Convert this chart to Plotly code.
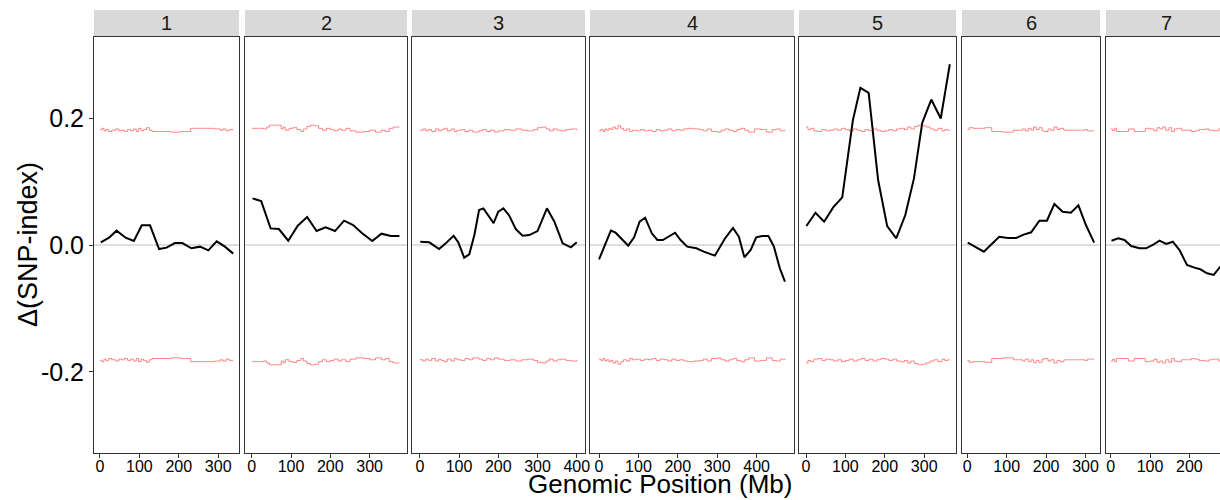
import plotly.graph_objects as go

# ---------------- data ----------------
chromosomes = ["1", "2", "3", "4", "5", "6", "7"]

# Delta SNP-index (tricube-smoothed) per chromosome: positions (Mb) and values
pos_1 = [2, 23, 42, 65, 86, 106, 127, 150, 169, 190, 209, 232, 254, 275, 296, 317, 338]
dsi_1 = [0.004, 0.0115, 0.0226, 0.0115, 0.0063, 0.031, 0.031, -0.0063, -0.0042, 0.0031,
         0.0031, -0.0052, -0.0026, -0.0084, 0.0058, -0.0026, -0.0136]

pos_2 = [2, 24, 48, 69, 93, 117, 141, 165, 188, 212, 235, 258, 281, 307, 330, 354, 376]
dsi_2 = [0.0735, 0.0693, 0.0262, 0.0252, 0.0068, 0.0304, 0.0441, 0.022, 0.0278, 0.022,
         0.0383, 0.0315, 0.0184, 0.0063, 0.0178, 0.0142, 0.0142]

pos_3 = [1, 24, 49, 66, 86, 98, 113, 126, 139, 151, 162, 188, 200, 213, 228, 245, 262,
         279, 300, 324, 343, 364, 385, 400]
dsi_3 = [0.0052, 0.0042, -0.0063, 0.0026, 0.0147, 0.0042, -0.020, -0.0147, 0.0157, 0.0551,
         0.0578, 0.0346, 0.0525, 0.0578, 0.0462, 0.0247, 0.0147, 0.0157, 0.022, 0.0578,
         0.0367, 0.0026, -0.0037, 0.0042]

pos_4 = [0, 10, 30, 42, 59, 74, 89, 103, 117, 134, 148, 162, 193, 207, 224, 247, 266, 294,
         320, 340, 355, 369, 385, 399, 414, 430, 444, 459, 472]
dsi_4 = [-0.0226, -0.0068, 0.0226, 0.0194, 0.009, -0.001, 0.0121, 0.0367, 0.043, 0.0184,
         0.0079, 0.0079, 0.0194, 0.0079, -0.0026, -0.0052, -0.0105, -0.0168, 0.0105, 0.0268,
         0.0131, -0.0194, -0.0079, 0.0121, 0.0142, 0.0142, -0.0026, -0.0367, -0.0578]

pos_5 = [1, 24, 46, 69, 92, 119, 138, 159, 183, 206, 229, 252, 274, 295, 318, 342, 365]
dsi_5 = [0.0299, 0.0509, 0.0367, 0.0593, 0.0751, 0.1969, 0.2478, 0.240, 0.1024, 0.0299,
         0.0105, 0.0472, 0.105, 0.1926, 0.2294, 0.1995, 0.285]

pos_6 = [1, 22, 42, 62, 81, 103, 124, 143, 162, 183, 202, 221, 242, 263, 282, 301, 322]
dsi_6 = [0.0037, -0.0037, -0.0105, 0.0016, 0.0131, 0.011, 0.011, 0.0163, 0.020, 0.0383,
         0.0383, 0.0646, 0.0525, 0.0509, 0.0625, 0.0315, 0.0037]

pos_7 = [2, 19, 35, 52, 73, 90, 107, 124, 141, 158, 175, 194, 213, 228, 245, 262, 280]
dsi_7 = [0.0068, 0.0105, 0.0079, -0.0016, -0.0052, -0.0052, 0.0, 0.0068, 0.0016, 0.0052,
         -0.0079, -0.0315, -0.0357, -0.0383, -0.0446, -0.0472, -0.0331]

# 95% confidence interval (plotted as +CI and -CI)
ci_pos_1 = [0, 5, 10, 15, 22, 30, 40, 48, 55, 62, 70, 78, 85, 92, 98, 104, 110, 118, 125,
            132, 150, 180, 205, 230, 260, 290, 305, 312, 320, 328, 337]
ci_1 = [0.182, 0.184, 0.180, 0.182, 0.179, 0.181, 0.183, 0.180, 0.181, 0.179, 0.182, 0.180,
        0.183, 0.179, 0.184, 0.180, 0.182, 0.185, 0.181, 0.179, 0.179, 0.178, 0.179, 0.184,
        0.184, 0.183, 0.181, 0.183, 0.180, 0.182, 0.181]

ci_pos_2 = [0, 20, 30, 38, 45, 70, 75, 80, 85, 95, 105, 115, 125, 132, 140, 150, 160, 170,
            180, 190, 200, 210, 220, 228, 240, 250, 265, 285, 300, 315, 330, 340, 350, 360, 376]
ci_2 = [0.184, 0.184, 0.183, 0.186, 0.189, 0.189, 0.183, 0.186, 0.181, 0.184, 0.185, 0.182,
        0.179, 0.183, 0.187, 0.189, 0.188, 0.184, 0.181, 0.184, 0.182, 0.180, 0.183, 0.181,
        0.184, 0.180, 0.178, 0.179, 0.181, 0.178, 0.181, 0.179, 0.184, 0.186, 0.186]

ci_pos_3 = [0, 8, 15, 22, 30, 40, 48, 55, 62, 70, 80, 88, 95, 105, 115, 125, 135, 150, 160,
            170, 180, 190, 200, 215, 230, 245, 260, 275, 290, 300, 312, 322, 330, 340, 350,
            360, 372, 385, 400]
ci_3 = [0.181, 0.183, 0.180, 0.182, 0.179, 0.183, 0.180, 0.182, 0.184, 0.180, 0.183, 0.179,
        0.181, 0.182, 0.179, 0.181, 0.178, 0.180, 0.182, 0.179, 0.181, 0.178, 0.180, 0.182,
        0.181, 0.183, 0.181, 0.180, 0.182, 0.185, 0.186, 0.183, 0.180, 0.183, 0.181, 0.180,
        0.182, 0.183, 0.181]

ci_pos_4 = [0, 5, 10, 15, 20, 25, 30, 35, 42, 48, 55, 62, 70, 78, 85, 95, 105, 115, 125, 135,
            145, 155, 165, 175, 185, 195, 205, 215, 225, 240, 255, 265, 275, 285, 300, 310,
            320, 330, 340, 350, 360, 370, 380, 395, 410, 425, 440, 450, 460, 472]
ci_4 = [0.180, 0.182, 0.179, 0.183, 0.181, 0.184, 0.182, 0.186, 0.183, 0.188, 0.184, 0.181,
        0.183, 0.179, 0.181, 0.180, 0.182, 0.180, 0.181, 0.179, 0.182, 0.180, 0.181, 0.183,
        0.180, 0.182, 0.181, 0.183, 0.184, 0.183, 0.182, 0.180, 0.183, 0.179, 0.178, 0.181,
        0.183, 0.181, 0.179, 0.182, 0.184, 0.181, 0.178, 0.183, 0.182, 0.178, 0.182, 0.183,
        0.180, 0.181]

ci_pos_5 = [0, 5, 12, 20, 30, 40, 50, 60, 70, 80, 90, 100, 110, 120, 130, 140, 150, 160, 170,
            180, 190, 200, 210, 220, 230, 240, 250, 258, 266, 275, 285, 295, 305, 315, 325,
            335, 345, 352, 360, 365]
ci_5 = [0.186, 0.182, 0.184, 0.180, 0.179, 0.182, 0.180, 0.181, 0.183, 0.181, 0.184, 0.182,
        0.180, 0.183, 0.181, 0.179, 0.182, 0.180, 0.183, 0.181, 0.179, 0.180, 0.182, 0.180,
        0.183, 0.184, 0.182, 0.186, 0.183, 0.187, 0.189, 0.188, 0.186, 0.183, 0.181, 0.184,
        0.180, 0.182, 0.181, 0.181]

ci_pos_6 = [0, 5, 15, 30, 45, 62, 90, 117, 130, 140, 147, 155, 162, 168, 175, 182, 190, 196,
            205, 212, 220, 228, 235, 245, 260, 280, 298, 305, 322]
ci_6 = [0.182, 0.185, 0.184, 0.184, 0.185, 0.179, 0.178, 0.181, 0.181, 0.183, 0.180, 0.184,
        0.181, 0.186, 0.182, 0.185, 0.180, 0.179, 0.183, 0.181, 0.186, 0.182, 0.184, 0.181,
        0.181, 0.181, 0.182, 0.180, 0.180]

ci_pos_7 = [0, 5, 10, 15, 45, 60, 88, 100, 110, 118, 125, 132, 140, 148, 155, 162, 170, 180,
            195, 205, 215, 225, 240, 250, 260, 275, 290]
ci_7 = [0.183, 0.180, 0.184, 0.179, 0.183, 0.179, 0.184, 0.183, 0.180, 0.185, 0.183, 0.186,
        0.181, 0.185, 0.179, 0.183, 0.184, 0.181, 0.181, 0.179, 0.180, 0.182, 0.183, 0.181,
        0.180, 0.183, 0.181]

positions = [pos_1, pos_2, pos_3, pos_4, pos_5, pos_6, pos_7]
delta_snp = [dsi_1, dsi_2, dsi_3, dsi_4, dsi_5, dsi_6, dsi_7]
ci_positions = [ci_pos_1, ci_pos_2, ci_pos_3, ci_pos_4, ci_pos_5, ci_pos_6, ci_pos_7]
ci_values = [ci_1, ci_2, ci_3, ci_4, ci_5, ci_6, ci_7]

y_ticks = [-0.2, 0.0, 0.2]
y_tick_labels = ["-0.2", "0.0", "0.2"]
x_ticks = [0, 100, 200, 300, 400]

# ---------------- layout geometry (pixels) ----------------
W, H = 1220, 500
L, R, T, B = 94, 0, 37, 47
PW = W - L - R
PH = H - T - B
panel_px = [(94, 239), (245, 407), (412, 585), (590, 794), (799, 956), (962, 1100), (1106, 1220)]
x_ranges = [(-15.2, 352.8), (-17.2, 395.2), (-20.0, 421.0), (-23.0, 495.0),
            (-17.8, 380.7), (-13.5, 336.8), (-12.0, 278.0)]
y_range = [-0.328, 0.328]
last_strip_right = 1226

font_family = "Liberation Sans, Arial, sans-serif"
border_col = "#333333"

fig = go.Figure()
shapes = []
annotations = []

for i, chrom in enumerate(chromosomes):
    n = i + 1
    xa = "x" if n == 1 else f"x{n}"
    ya = "y" if n == 1 else f"y{n}"
    # CI lines
    for sign in (1, -1):
        fig.add_trace(go.Scatter(
            x=ci_positions[i], y=[sign * v for v in ci_values[i]],
            mode="lines", line=dict(color="rgba(255,40,40,0.55)", width=1, shape="hv"),
            xaxis=xa, yaxis=ya, showlegend=False, hoverinfo="skip"))
    # Delta SNP-index
    fig.add_trace(go.Scatter(
        x=positions[i], y=delta_snp[i], mode="lines",
        line=dict(color="black", width=2),
        xaxis=xa, yaxis=ya, showlegend=False))

    d0 = (panel_px[i][0] - L) / PW
    d1 = (panel_px[i][1] - L) / PW
    last = (i == len(chromosomes) - 1)
    xkey = "xaxis" if n == 1 else f"xaxis{n}"
    ykey = "yaxis" if n == 1 else f"yaxis{n}"
    fig.layout[xkey] = dict(
        domain=[d0, min(d1, 1.0)], range=list(x_ranges[i]), anchor=ya,
        automargin=False,
        tickmode="array", tickvals=x_ticks, ticktext=[str(t) for t in x_ticks],
        ticks="outside", ticklen=4, tickcolor=border_col, tickwidth=1,
        ticklabelstandoff=-5,
        tickfont=dict(size=16, color="black", family=font_family),
        showgrid=False, zeroline=False,
        showline=True, linecolor=border_col, linewidth=1, mirror=True)
    fig.layout[ykey] = dict(
        domain=[0, 1], range=y_range, anchor=xa,
        automargin=False,
        tickmode="array", tickvals=y_ticks, ticktext=y_tick_labels,
        ticks="outside" if n == 1 else "", ticklen=4, tickcolor=border_col, tickwidth=1,
        showticklabels=(n == 1),
        tickfont=dict(size=25, color="black", family=font_family),
        showgrid=False, zeroline=False,
        showline=True, linecolor=border_col, linewidth=1, mirror=(not last))
    # zero reference line
    shapes.append(dict(type="line", xref=f"{xa} domain", yref=ya, x0=0, x1=1, y0=0, y1=0,
                       line=dict(color="#BEBEBE", width=1), layer="below"))
    # strip
    s_top = (H - B - 10) / PH
    shapes.append(dict(type="rect", xref="paper", yref="paper",
                       x0=d0, x1=min(d1, 1.0), y0=1.0, y1=s_top,
                       fillcolor="#D9D9D9", line=dict(width=0), layer="below"))
    cx = (d0 + min(d1, 1.0)) / 2 if not last else (d0 + (last_strip_right - L) / PW) / 2
    annotations.append(dict(text=chrom, xref="paper", yref="paper",
                            x=cx, y=(1.0 + s_top) / 2, showarrow=False,
                            xanchor="center", yanchor="middle",
                            font=dict(size=20, color="#1A1A1A", family=font_family)))

annotations.append(dict(text="Genomic Position (Mb)", xref="paper", yref="paper",
                        x=(660 - L) / PW, y=(H - B - 484) / PH, showarrow=False,
                        xanchor="center", yanchor="middle", borderpad=0,
                        font=dict(size=26, color="black", family=font_family)))
annotations.append(dict(text="Δ(SNP-index)", xref="paper", yref="paper",
                        x=(28 - L) / PW, y=0.5, showarrow=False, textangle=-90,
                        xanchor="center", yanchor="middle",
                        font=dict(size=27, color="black", family=font_family)))

fig.update_layout(
    width=W, height=H,
    margin=dict(l=L, r=R, t=T, b=B, autoexpand=False),
    paper_bgcolor="white", plot_bgcolor="white",
    shapes=shapes, annotations=annotations,
    font=dict(family=font_family),
)

post = ("document.documentElement.style.overflow='hidden';"
        "document.body.style.margin='0';document.body.style.padding='0';"
        "document.body.style.overflow='hidden';"
        "var gd=document.getElementById('{plot_id}');"
        "Plotly.relayout(gd,{width:%d,height:%d});" % (W, H))

fig.write_html("out.html", config={"responsive": False, "displayModeBar": False},
               post_script=post)
